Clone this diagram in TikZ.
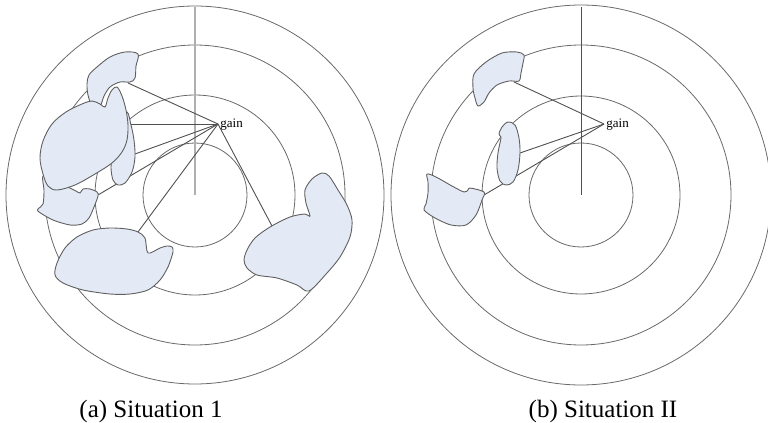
\documentclass[tikz,border=0pt]{standalone}
\usepackage{fontspec}
\setmainfont{Liberation Serif}
\definecolor{ringgray}{RGB}{105,105,105}
\definecolor{raygray}{RGB}{80,80,80}
\definecolor{axisgray}{RGB}{175,175,175}
\definecolor{blobedge}{RGB}{95,95,95}
\definecolor{blobfill}{RGB}{228,234,245}
\begin{document}
\begin{tikzpicture}[x=0.5pt,y=-0.5pt,
  ring/.style={draw=ringgray, line width=0.4pt},
  ray/.style={draw=raygray, line width=0.45pt},
  blob/.style={draw=blobedge, fill=blobfill, line width=0.45pt},
  gainlabel/.style={anchor=base west, inner sep=0pt, font=\fontsize{6.5pt}{7pt}\selectfont},
  caption/.style={anchor=base, inner sep=0pt, font=\fontsize{12.5pt}{14pt}\selectfont}]
\useasboundingbox (0,0) rectangle (768,423);

% ---------------- (a) Situation 1 ----------------
\coordinate (cL) at (195,195);
\coordinate (topL) at (195,7);
\foreach \r in {52,100,150,189}
  \draw[ring] (cL) circle[radius=\r*0.5pt];
\draw[axisgray, line width=0.8pt] (topL) -- (cL);

\coordinate (gainL) at (218,124);
\coordinate (eA) at (128,83);
\coordinate (eB) at (129,124);
\coordinate (eC) at (135,154);
\coordinate (eD) at (98,195);
\coordinate (eE) at (138,232);
\coordinate (eF) at (272,226);
\foreach \e in {eA,eB,eC,eD,eE,eF}
  \draw[ray] (gainL) -- (\e);

% upper region, partly behind the large one
\draw[blob] plot[smooth cycle, tension=0.55] coordinates {
  (138,54) (136,66) (135,78) (130,82) (120,82) (110,87) (104,96) (100,106)
  (92,105) (88,95) (87,84) (89,75) (97,67) (110,57) (125,52)};
% slim region behind the large one
\draw[blob] plot[smooth cycle, tension=0.55] coordinates {
  (127,112) (131,125) (134,140) (135,157) (132,172) (125,183) (118,185)
  (113,180) (111,168) (112,157) (116,140) (120,125)};
% small region below the large one
\draw[blob] plot[smooth cycle, tension=0.5] coordinates {
  (68,187) (76,191) (80,193) (83,189) (90,189) (97,192) (98,196) (94,207)
  (89,218) (82,224) (70,225) (53,220) (39,212) (38,209) (43,204) (44,190)
  (43,176) (55,180)};
% large region
\draw[blob] plot[smooth cycle, tension=0.55] coordinates {
  (117,87) (122,96) (126,110) (128,125) (127,140) (122,152) (112,163)
  (95,174) (75,185) (57,190) (48,186) (43,174) (40,158) (43,141) (52,124)
  (66,112) (82,104) (92,101) (100,104) (105,107) (108,98) (112,90)};
% bottom region
\draw[blob] plot[smooth cycle, tension=0.5] coordinates {
  (110,228) (127,229) (138,232) (145,238) (148,253) (160,248) (167,246)
  (172,247) (173,252) (168,267) (160,280) (148,290) (130,294) (110,294)
  (83,290) (63,283) (55,275) (57,263) (65,248) (77,237) (93,230)};
% right region
\draw[blob] plot[smooth cycle, tension=0.5] coordinates {
  (322,173) (329,176) (338,190) (347,205) (352,220) (350,237) (340,257)
  (327,273) (309,291) (297,285) (277,278) (257,275) (247,268) (244,260)
  (247,250) (255,238) (270,227) (290,217) (305,214) (310,216) (306,203)
  (305,190) (312,179)};

\node[gainlabel] (labL) at (220,127) {gain};
\node[caption] (capA) at (151,417) {(a) Situation 1};

% ---------------- (b) Situation II ----------------
\coordinate (cR) at (581,195);
\coordinate (topR) at (581,7);
\foreach \r in {52,99,150,190}
  \draw[ring] (cR) circle[radius=\r*0.5pt];
\draw[ray] (topR) -- (cR);

\coordinate (gainR) at (604,124);
\coordinate (eG) at (514,82);
\coordinate (eH) at (520,153);
\coordinate (eI) at (484,195);
\foreach \e in {eG,eH,eI}
  \draw[ray] (gainR) -- (\e);

\draw[blob] plot[smooth cycle, tension=0.5] coordinates {
  (524,55) (517,52) (502,53) (486,62) (474,74) (473,88) (475,98) (478,106)
  (484,102) (489,93) (497,85) (509,81) (519,81) (521,73) (523,63)};
\draw[blob] plot[smooth cycle, tension=0.55] coordinates {
  (508,122) (515,125) (519,138) (520,153) (518,170) (513,182) (506,185)
  (500,181) (497,168) (498,153) (500,143) (501,137) (499,134) (502,127)};
\draw[blob] plot[smooth cycle, tension=0.5] coordinates {
  (427,174) (436,177) (452,186) (464,192) (468,190) (470,188) (484,192)
  (482,200) (476,215) (466,225) (451,225) (435,218) (424,210) (426,204)
  (428,193) (428,182)};

\node[gainlabel] (labR) at (606,127) {gain};
\node[caption] (capB) at (603,417) {(b) Situation II};
\end{tikzpicture}
\end{document}
